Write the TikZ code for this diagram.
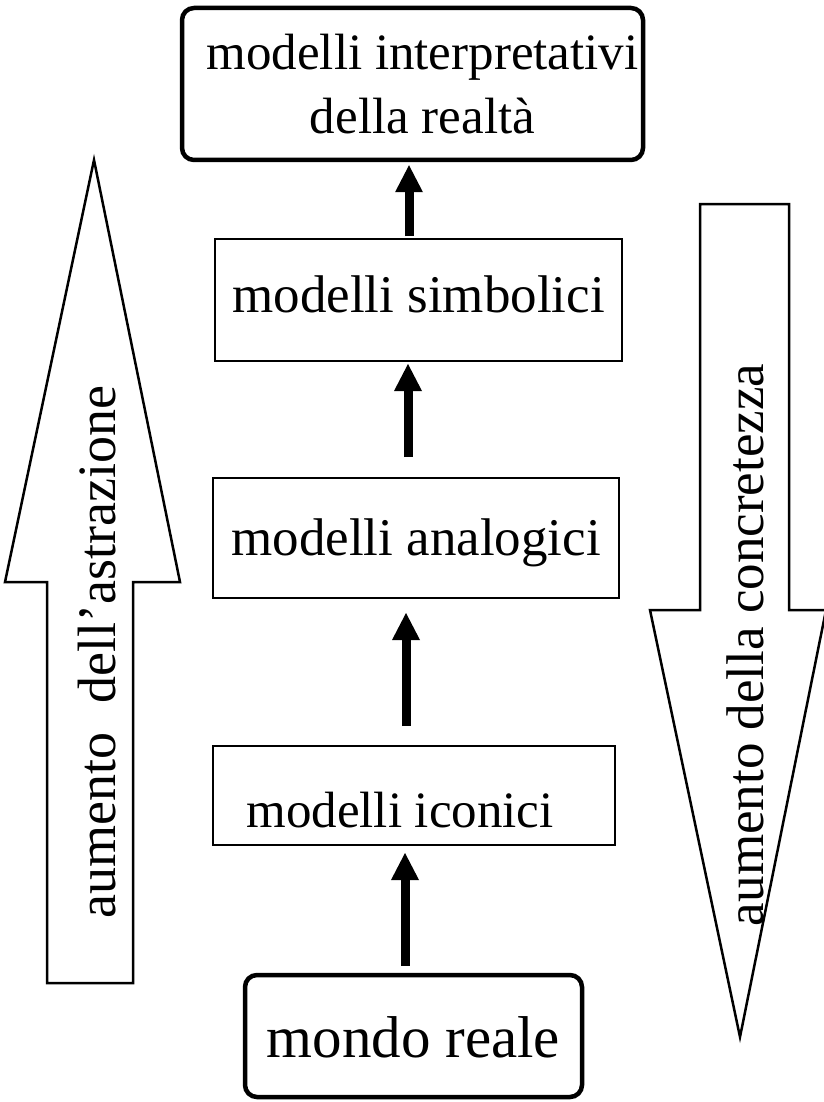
\documentclass[tikz,border=0pt]{standalone}
\usepackage{fontspec}
\setmainfont{Liberation Serif}
\usetikzlibrary{arrows.meta}
\begin{document}
\begin{tikzpicture}[x=1pt,y=-1pt,
  model/.style={draw, line width=2pt, inner sep=0pt, font=\fontsize{53}{64}\selectfont},
  endbox/.style={draw, line width=4.5pt, rounded corners=12pt, inner sep=0pt, align=center},
  lift/.style={text height=#1, text depth=0pt},
  uparrow/.style={line width=9pt, -{Triangle[width=28pt,length=27pt,line width=0pt]}},
  bigarrow/.style={draw, line width=2.5pt, line join=miter},
  sidetext/.style={rotate=90, anchor=base, font=\fontsize{54}{66}\selectfont}]
  \fill[white] (0,0) rectangle (823,1102);
  \useasboundingbox (0,0) rectangle (823,1102);

  % ladder of models
  \node[endbox, minimum width=461pt, minimum height=152pt,
        font=\fontsize{51}{64}\selectfont] (interp) at (412.5,84)
        {\hspace*{20pt}modelli interpretativi\\\hspace*{20pt}della realtà};
  \node[model, minimum width=407pt, minimum height=122pt, lift=24pt] (simb) at (418.5,300) {modelli simbolici};
  \node[model, minimum width=406pt, minimum height=120pt, lift=34pt] (anal) at (416,538) {modelli analogici};
  \node[model, minimum width=402pt, minimum height=99pt, lift=63pt,
        font=\fontsize{51}{60}\selectfont] (icon) at (414,795.5) {modelli iconici\hspace*{28pt}};
  \node[endbox, minimum width=337pt, minimum height=122pt, lift=42pt,
        font=\fontsize{59}{70}\selectfont] (mondo) at (413.5,1036) {mondo reale};

  % upward steps
  \draw[uparrow, shorten <=2pt, shorten >=3pt] (simb.north -| 409,0) -- (interp.south -| 409,0);
  \draw[uparrow, shorten <=20pt, shorten >=2pt] (anal.north -| 408,0) -- (simb.south -| 408,0);
  \draw[uparrow, shorten <=19pt, shorten >=14pt] (icon.north -| 406,0) -- (anal.south -| 406,0);
  \draw[uparrow, shorten <=7pt, shorten >=7pt] (mondo.north -| 405,0) -- (icon.south -| 405,0);

  % side arrows
  \draw[bigarrow] (47,983) -- (47,582) -- (5,582) -- (94,160) -- (180,582)
                  -- (133,582) -- (133,983) -- cycle;
  \draw[bigarrow] (700,204) -- (789,204) -- (789,610) -- (826,610) -- (740,1037)
                  -- (650,610) -- (700,610) -- cycle;

  \node[sidetext] (abstr) at (115,652) {aumento\hspace{0.55em}dell’astrazione};
  \node[sidetext, font=\fontsize{53}{64}\selectfont] (concr) at (763,645) {aumento della concretezza};
\end{tikzpicture}
\end{document}
